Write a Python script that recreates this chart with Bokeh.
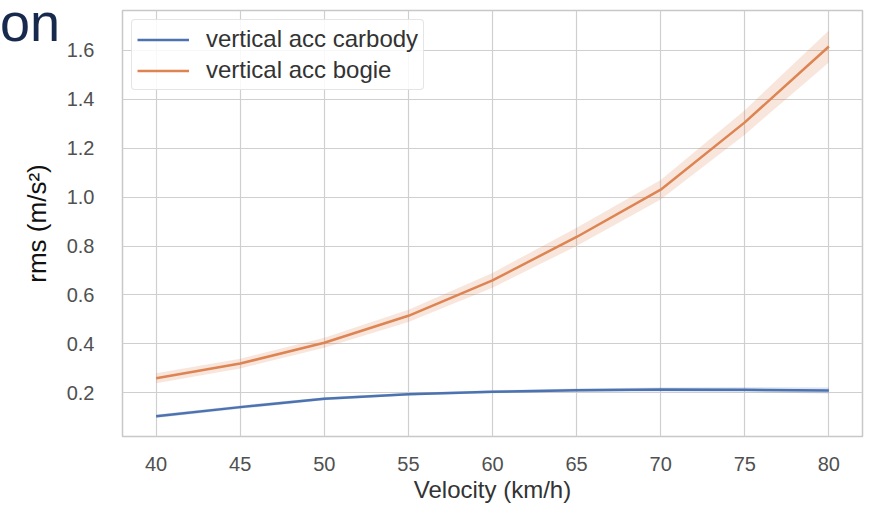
from bokeh.plotting import figure
from bokeh.models import ColumnDataSource, Legend, LegendItem, Div, FixedTicker, NumeralTickFormatter, Range1d
from bokeh.layouts import column
from bokeh.embed import file_html
from bokeh.resources import INLINE

velocity = [40, 45, 50, 55, 60, 65, 70, 75, 80]
carbody = [0.105, 0.142, 0.176, 0.195, 0.205, 0.211, 0.214, 0.213, 0.210]
carbody_lo = [0.098, 0.135, 0.170, 0.189, 0.199, 0.204, 0.206, 0.203, 0.198]
carbody_hi = [0.112, 0.149, 0.182, 0.201, 0.211, 0.218, 0.222, 0.223, 0.222]
bogie = [0.26, 0.32, 0.405, 0.515, 0.66, 0.837, 1.03, 1.305, 1.615]
bogie_lo = [0.24, 0.30, 0.385, 0.49, 0.63, 0.80, 0.99, 1.255, 1.55]
bogie_hi = [0.28, 0.34, 0.425, 0.54, 0.69, 0.875, 1.07, 1.355, 1.68]
x_ticks = [40, 45, 50, 55, 60, 65, 70, 75, 80]
y_ticks = [0.2, 0.4, 0.6, 0.8, 1.0, 1.2, 1.4, 1.6]

BLUE = "#4c72b0"
ORANGE = "#dd8452"
FONT = "Liberation Sans"

src = ColumnDataSource(dict(v=velocity, c=carbody, clo=carbody_lo, chi=carbody_hi,
                            b=bogie, blo=bogie_lo, bhi=bogie_hi))

p = figure(width=871, height=505, output_backend="svg", toolbar_location=None,
           x_range=Range1d(38, 82), y_range=Range1d(0.022, 1.762),
           min_border_left=122, min_border_right=9, min_border_top=10, min_border_bottom=65)

p.varea(x="v", y1="clo", y2="chi", source=src, fill_color=BLUE, fill_alpha=0.2)
p.varea(x="v", y1="blo", y2="bhi", source=src, fill_color=ORANGE, fill_alpha=0.2)
r1 = p.line(x="v", y="c", source=src, line_color=BLUE, line_width=2.5)
r2 = p.line(x="v", y="b", source=src, line_color=ORANGE, line_width=2.5)

p.xaxis.ticker = FixedTicker(ticks=x_ticks)
p.yaxis.ticker = FixedTicker(ticks=y_ticks)
p.yaxis.formatter = NumeralTickFormatter(format="0.0")
for ax in (p.xaxis[0], p.yaxis[0]):
    ax.axis_line_color = None
    ax.major_tick_line_color = None
    ax.minor_tick_line_color = None
    ax.major_label_text_font = FONT
    ax.major_label_text_font_size = "20px"
    ax.major_label_text_color = "#505050"
    ax.axis_label_text_font = FONT
    ax.axis_label_text_font_style = "normal"
p.xaxis.axis_label = "Velocity (km/h)"
p.xaxis.axis_label_text_font_size = "24px"
p.xaxis.axis_label_text_color = "#333333"
p.xaxis.major_label_standoff = 14
p.xaxis.axis_label_standoff = 2
p.yaxis.axis_label = "rms (m/s²)"
p.yaxis.axis_label_text_font_size = "26px"
p.yaxis.axis_label_text_color = "#111111"
p.yaxis.major_label_standoff = 22
p.yaxis.axis_label_standoff = 12

p.xgrid.grid_line_color = "#cfcfcf"
p.ygrid.grid_line_color = "#cfcfcf"
p.xgrid.grid_line_width = 1.2
p.ygrid.grid_line_width = 1.2
p.outline_line_color = "#c8c8c8"
p.outline_line_width = 1.5

legend = Legend(items=[LegendItem(label="vertical acc carbody", renderers=[r1]),
                       LegendItem(label="vertical acc bogie", renderers=[r2])],
                location="top_left")
legend.label_text_font = FONT
legend.label_text_font_size = "24px"
legend.label_text_color = "#333333"
legend.glyph_width = 52
legend.glyph_height = 27
legend.label_height = 27
legend.label_standoff = 17
legend.spacing = 3
legend.padding = 5
legend.margin = 9
legend.border_line_color = "#cccccc"
legend.border_radius = 4
legend.background_fill_alpha = 0.85
p.add_layout(legend)

title_part = Div(text="on", width=70, height=0,
                 styles={"position": "relative", "z-index": "10", "left": "-5px", "top": "-515px",
                         "font-size": "54px", "line-height": "54px", "color": "#17294d",
                         "font-family": "'Liberation Sans'", "overflow": "visible",
                         "white-space": "nowrap"})

layout = column(p, title_part, spacing=0)

open("out.html", "w").write(file_html(layout, INLINE))
